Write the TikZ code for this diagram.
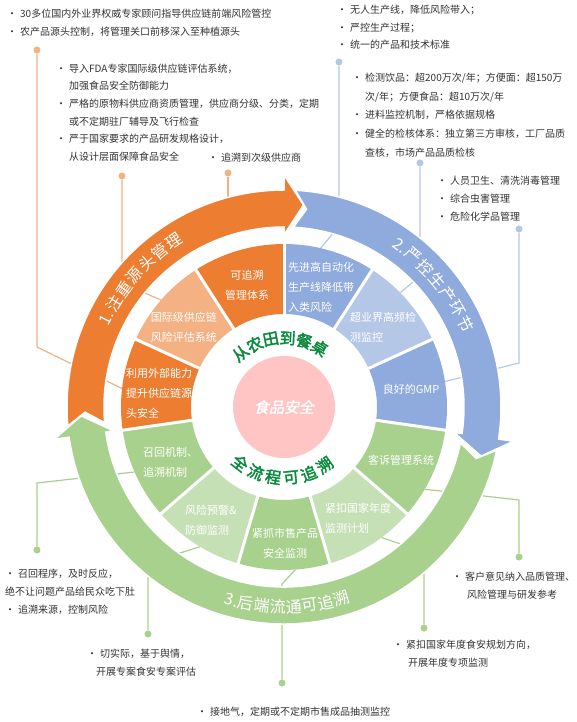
\documentclass[tikz,border=0pt]{standalone}
\usepackage{fontspec}
\setmainfont{Noto Sans CJK SC}
\newfontfamily\heavycjk[FakeBold=2.5]{Noto Sans CJK SC}
\newfontfamily\slantcjk[FakeBold=1.5,FakeSlant=0.2]{Noto Sans CJK SC}

\definecolor{srcorange}{HTML}{ED7D31}
\definecolor{srcorangelt}{HTML}{F4B183}
\definecolor{prodblue}{HTML}{8FAADC}
\definecolor{prodbluelt}{HTML}{B4C7E7}
\definecolor{tracegreen}{HTML}{A9D18E}
\definecolor{tracegreenlt}{HTML}{C5E0B4}
\definecolor{corepink}{HTML}{FFC5C5}
\definecolor{slogangreen}{HTML}{0B8A3E}
\definecolor{notegray}{HTML}{333333}

\newcommand{\notebul}{\makebox[13pt][l]{•}}
\newcommand{\noteind}{\hspace*{13pt}}
% ring arrow: colour, tail angle, head base angle (runs clockwise)
\newcommand{\ringarrow}[3]{%
  \fill[#1, draw=white, line width=1.5pt] (#2:217pt)
    arc[start angle=#2, end angle=#3, radius=217pt] -- (#3:232pt)
    -- ({#3-5.5}:203pt) -- (#3:172pt) -- (#3:180pt)
    arc[start angle=#3, end angle=#2, radius=180pt]
    -- ({#2-3.5}:199pt) -- cycle;}

\begin{document}
\begin{tikzpicture}[x=1pt, y=1pt,
    note/.style={anchor=west, align=left, inner sep=0pt, text=notegray,
      font=\fontsize{10}{18}\selectfont},
    sector label/.style={align=center, inner sep=0pt, text=white,
      font=\fontsize{11}{20}\selectfont},
    ring label/.style={inner sep=0pt, text=white, font=\fontsize{16}{16}\selectfont},
    slogan/.style={inner sep=0pt, text=slogangreen, font=\heavycjk\fontsize{16}{16}\selectfont},
    odot/.style={circle, fill=srcorangelt, inner sep=0pt, minimum size=7pt},
    bdot/.style={circle, fill=prodbluelt, inner sep=0pt, minimum size=7pt},
    gdot/.style={circle, fill=tracegreen, inner sep=0pt, minimum size=7pt},
    oline/.style={srcorangelt, line width=1.2pt},
    bline/.style={prodbluelt, line width=1.2pt},
    gline/.style={tracegreen, line width=1.2pt}]
\useasboundingbox (-284,-315) rectangle (293,407);
\fill[white] (-284,-315) rectangle (293,407);

% points on the sector rims
\coordinate (os1) at (173.5:163pt);
\coordinate (os2) at (139:163pt);
\coordinate (bs1) at (77:163pt);
\coordinate (bs2) at (44.5:163pt);
\coordinate (bs3) at (9:163pt);
\coordinate (gs1) at (203.5:163pt);
\coordinate (gs2) at (239:163pt);
\coordinate (gs3) at (274:163pt);
\coordinate (gs4) at (306.8:163pt);
\coordinate (gs5) at (329.7:163pt);

% leader lines
\node[odot] (od1) at (-247,357) {};
\coordinate (oe1) at (-247,60);
\draw[oline] (os1) -- (oe1) -- (od1);
\node[odot] (od2) at (-162,231) {};
\coordinate (oe2) at (-162,124);
\draw[oline] (os2) -- (oe2) -- (od2);
\node[odot] (od3) at (-56,234) {};
\coordinate (oe3) at (-56,200);
\draw[oline] (oe3) -- (od3);

\node[bdot] (bd1) at (55,345) {};
\coordinate (be1) at (55,181);
\draw[bline] (bs1) -- (be1) -- (bd1);
\node[bdot] (bd2) at (136,244) {};
\coordinate (be2) at (136,131);
\draw[bline] (bs2) -- (be2) -- (bd2);
\node[bdot] (bd3) at (235,178) {};
\coordinate (be3) at (235,44);
\draw[bline] (bs3) -- (be3) -- (bd3);

\node[gdot] (gd1) at (-247,-143) {};
\coordinate (ge1) at (-247,-76);
\draw[gline] (gs1) -- (ge1) -- (gd1);
\node[gdot] (gd2) at (-136,-227) {};
\coordinate (ge2) at (-136,-156);
\draw[gline] (gs2) -- (ge2) -- (gd2);
\node[gdot] (gd3) at (-2,-276) {};
\coordinate (ge3) at (-2,-177);
\draw[gline] (gs3) -- (ge3) -- (gd3);
\node[gdot] (gd4) at (140,-221) {};
\coordinate (ge4) at (140,-145);
\draw[gline] (gs4) -- (ge4) -- (gd4);
\node[gdot] (gd5) at (235,-150) {};
\coordinate (ge5) at (235,-93);
\draw[gline] (gs5) -- (ge5) -- (gd5);

% outer ring arrows
\ringarrow{srcorange}{185}{90}
\ringarrow{prodblue}{87}{-8.5}
\ringarrow{tracegreen}{-11.5}{-172}

% inner sectors
\foreach \c [count=\i from 0] in {srcorange, srcorangelt, srcorange, tracegreen,
    tracegreenlt, tracegreen, tracegreenlt, tracegreen, prodblue, prodbluelt, prodblue} {
  \pgfmathsetmacro\sa{90+\i*360/11}
  \pgfmathsetmacro\sb{90+(\i+1)*360/11}
  \fill[\c] (\sa:93pt) arc[start angle=\sa, end angle=\sb, radius=93pt]
    -- (\sb:163pt) arc[start angle=\sb, end angle=\sa, radius=163pt] -- cycle;
}
\foreach \i in {0,...,10}
  \draw[white, line width=3pt] ({90+\i*360/11}:88pt) -- ({90+\i*360/11}:168pt);

\node[sector label] (s1) at (-37,122) {可追溯\\管理体系};
\node[sector label] (s2) at (-100,80) {国际级供应链\\风险评估系统};
\node[sector label, anchor=west, align=left] (s3) at (-158,14) {利用外部能力\\提升供应链源\\头安全};
\node[sector label, anchor=west, align=left] (s4) at (-141,-55) {召回机制、\\追溯机制};
\node[sector label, anchor=west, align=left] (s5) at (-99,-113) {风险预警\&\\防御监测};
\node[sector label] (s6) at (1,-136) {紧抓市售产品\\安全监测};
\node[sector label, anchor=west, align=left] (s7) at (41,-111) {紧扣国家年度\\监测计划};
\node[sector label] (s8) at (117,-53) {客诉管理系统};
\node[sector label] (s9) at (127,18) {良好的GMP};
\node[sector label, anchor=west, align=left] (s10) at (66,80) {超业界高频检\\测监控};
\node[sector label, anchor=west, align=left] (s11) at (4,120) {先进高自动化\\生产线降低带\\入类风险};

% ring titles
\foreach \t/\a in {1./153.4, 注/148.6, 重/143.6, 源/138.6, 头/133.6, 管/128.6, 理/123.6}
  \node[ring label, rotate=\a-90] at (\a:199pt) {\t};
\foreach \t/\a in {2./54.3, 严/49.5, 控/44.5, 生/39.5, 产/34.5, 环/29.5, 节/24.5}
  \node[ring label, rotate=\a-90] at (\a:199pt) {\t};
\foreach \t/\a in {3./254.8, 后/259, 端/263.6, 流/268.2, 通/272.8, 可/277.4, 追/282, 溯/286.6}
  \node[ring label, rotate=\a+90] at (\a:200pt) {\t};

% core
\node[circle, fill=corepink, minimum size=102pt, inner sep=0pt] (core) at (0,0) {};
\node[text=white, font=\slantcjk\fontsize{15}{15}\selectfont] (coretext) at (core) {食品安全};
\foreach \t/\a in {从/129, 农/115, 田/101, 到/87, 餐/73, 桌/59}
  \node[slogan, rotate=\a-90] at (\a:69pt) {\t};
\foreach \t/\a in {全/232, 流/246.6, 程/261.2, 可/275.8, 追/290.4, 溯/305}
  \node[slogan, rotate=\a+90] at (\a:71pt) {\t};

% notes
\node[note] (n-src1) at (-277,384.5) {\notebul 30多位国内外业界权威专家顾问指导供应链前端风险管控\\
  \notebul 农产品源头控制，将管理关口前移深入至种植源头};
\node[note, font=\fontsize{10}{17.6}\selectfont] (n-src2) at (-228,294.5) {\notebul 导入FDA专家国际级供应链评估系统，\\
  \noteind 加强食品安全防御能力\\
  \notebul 严格的原物料供应商资质管理，供应商分级、分类，定期\\
  \noteind 或不定期驻厂辅导及飞行检查\\
  \notebul 严于国家要求的产品研发规格设计，\\
  \noteind 从设计层面保障食品安全};
\node[note] (n-src3) at (-76,249) {\notebul 追溯到次级供应商};
\node[note, font=\fontsize{10}{17.5}\selectfont] (n-prod1) at (53,379.7) {\notebul 无人生产线，降低风险带入；\\
  \notebul 严控生产过程；\\
  \notebul 统一的产品和技术标准};
\node[note, font=\fontsize{10}{18.7}\selectfont] (n-prod2) at (68,291.8) {\notebul 检测饮品：超200万次/年；方便面：超150万\\
  \noteind 次/年；方便食品：超10万次/年\\
  \notebul 进料监控机制，严格依据规格\\
  \notebul 健全的检核体系：独立第三方审核，工厂品质\\
  \noteind 查核，市场产品品质检核};
\node[note] (n-prod3) at (153,208) {\notebul 人员卫生、清洗消毒管理\\
  \notebul 综合虫害管理\\
  \notebul 危险化学品管理};
\node[note] (n-trace1) at (-279,-184.7) {\notebul 召回程序，及时反应，\\
  绝不让问题产品给民众吃下肚\\
  \notebul 追溯来源，控制风险};
\node[note] (n-trace2) at (-197,-255.5) {\notebul 切实际，基于舆情，\\
  \hspace*{9pt}开展专案食安专案评估};
\node[note] (n-trace3) at (-87,-305) {\notebul 接地气，定期或不定期市售成品抽测监控};
\node[note] (n-trace4) at (109,-247) {\notebul 紧扣国家年度食安规划方向，\\
  \hspace*{15pt}开展年度专项监测};
\node[note] (n-trace5) at (168,-178.5) {\notebul 客户意见纳入品质管理、\\
  \hspace*{15pt}风险管理与研发参考};
\end{tikzpicture}
\end{document}
